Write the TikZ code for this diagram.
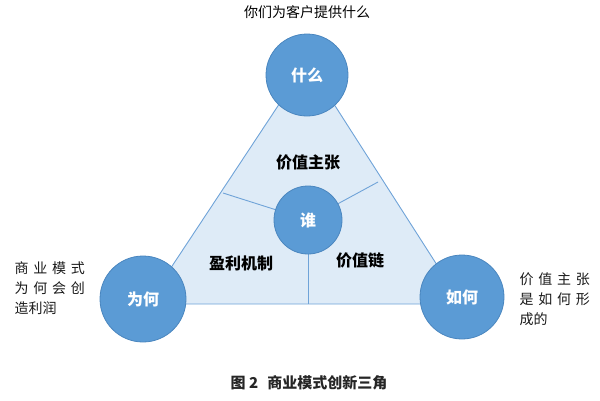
\documentclass[tikz,border=0pt]{standalone}
\usepackage{fontspec}
\setmainfont{Noto Sans CJK SC}
\newfontfamily\cjksp[LetterSpace=34]{Noto Sans CJK SC}
\definecolor{cblue}{HTML}{5B9BD5}
\definecolor{cedge}{HTML}{4A86BF}
\definecolor{tfill}{HTML}{DEEBF7}
\definecolor{tline}{HTML}{6FA3D8}
\begin{document}
\begin{tikzpicture}[x=1pt,y=-1pt,
  bigc/.style={circle,fill=cblue,draw=cedge,line width=0.8pt,minimum size=#1,inner sep=0pt,text=white,font=\fontsize{16}{18}\selectfont\bfseries},
  lbl/.style={font=\fontsize{16}{18}\selectfont\bfseries,text=black},
  side/.style={font=\fontsize{14}{20}\selectfont,align=left,anchor=west,text=black!90}]
\useasboundingbox (0,0) rectangle (600,400);
\coordinate (A) at (307,62);
\coordinate (B) at (147,304);
\coordinate (C) at (462,304);
\fill[tfill] (A) -- (B) -- (C) -- cycle;
\coordinate (pl) at (223,193);
\coordinate (pr) at (378,182);
\coordinate (pb) at (308,304);
\draw[tline,line width=0.9pt] (308,220) -- (pl);
\draw[tline,line width=0.9pt] (308,220) -- (pr);
\draw[tline,line width=0.9pt] (308,220) -- (pb);
\draw[tline,line width=0.9pt] (A) -- (B) -- (C) -- cycle;
\node[bigc=82pt] (top) at (307,75) {什么};
\node[bigc=86pt] (left) at (143,299) {为何};
\node[bigc=84pt] (right) at (462,297) {如何};
\node[bigc=68pt] (mid) at (308,220) {谁};
\node[lbl] (vp) at (308,162) {价值主张};
\node[lbl] (pm) at (241,263) {盈利机制};
\node[lbl] (vc) at (360,260) {价值链};
\node[font=\fontsize{14}{16}\selectfont,text=black] (tt) at (307,12) {你们为客户提供什么};
\node[side] (lt) at (11,288) {{\cjksp 商业模式}\\{\cjksp 为何会创}\\造利润};
\node[side] (rt) at (516,299) {{\cjksp 价值主张}\\{\cjksp 是如何形}\\成的};
\node[font=\fontsize{15}{17}\selectfont\bfseries,text=black!85] (cap) at (309,383) {图 2\hspace{0.6em}商业模式创新三角};
\end{tikzpicture}
\end{document}
